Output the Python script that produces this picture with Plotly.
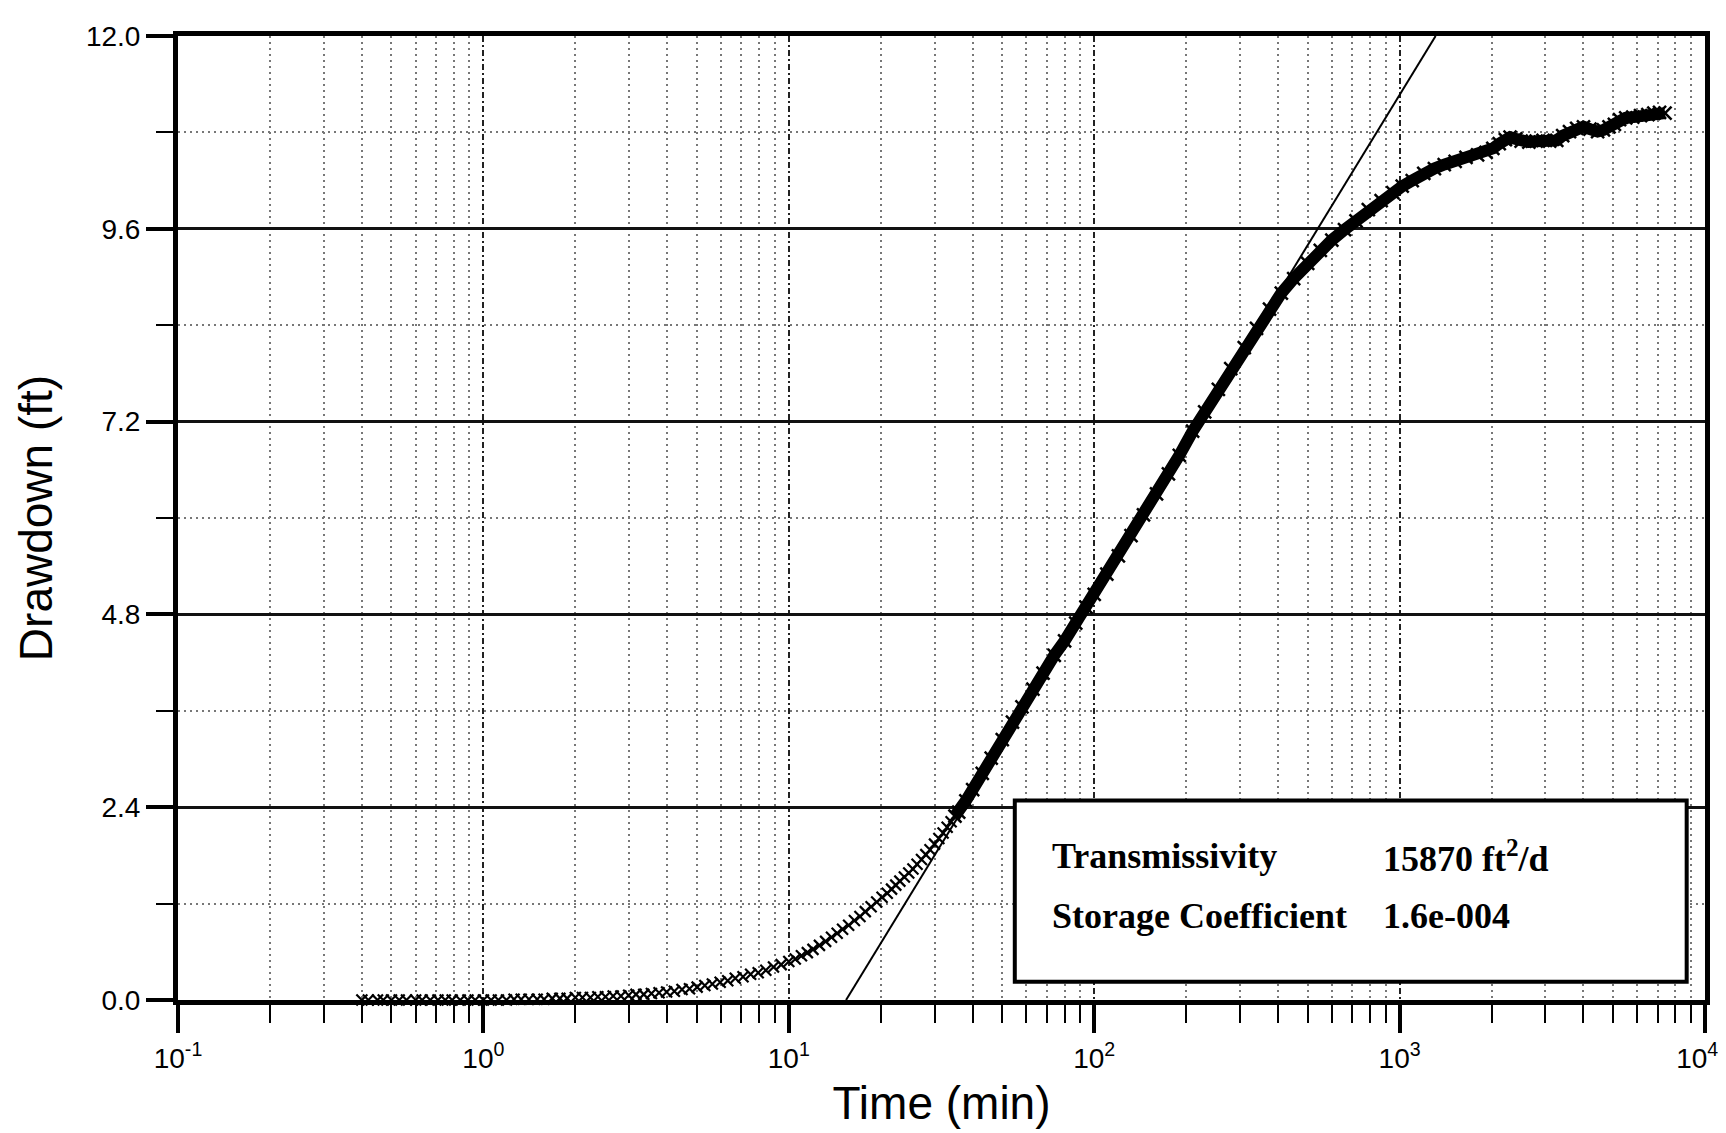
import plotly.graph_objects as go

# ---------------- data ----------------
# early observations (sparse, individual "x" markers)
time_early = [0.40, 0.42, 0.45, 0.47, 0.50, 0.53, 0.56, 0.60, 0.63, 0.67, 0.71, 0.75,
              0.79, 0.84, 0.89, 0.94, 1.00, 1.06, 1.12, 1.19, 1.26, 1.33, 1.41, 1.50,
              1.58, 1.68, 1.78, 1.88, 2.00, 2.11, 2.24, 2.37, 2.51, 2.66, 2.82, 2.99,
              3.16, 3.35, 3.55, 3.76, 3.98, 4.22, 4.47, 4.73, 5.01, 5.31, 5.62, 5.96,
              6.31, 6.68, 7.08, 7.50, 7.94, 8.41, 8.91, 9.44, 10.0,
              10.5, 11.0, 11.5, 12.0, 12.6, 13.2, 13.8, 14.4, 15.0, 15.7, 16.4, 17.1,
              17.8, 18.6, 19.4, 20.2,
              21.0, 21.7, 22.4, 23.1, 23.9, 24.7, 25.5, 26.3, 27.2, 28.1, 29.0, 30.0,
              31.0, 32.0, 33.0, 34.0, 35.0]
drawdown_early = [0.0, 0.0, 0.0, 0.0, 0.0, 0.0, 0.0, 0.0, 0.0, 0.0, 0.0, 0.0,
                  0.0, 0.0, 0.0, 0.0, 0.0, 0.0, 0.0, 0.0, 0.01, 0.01, 0.01, 0.01,
                  0.01, 0.02, 0.02, 0.02, 0.03, 0.03, 0.03, 0.04, 0.04, 0.05, 0.05, 0.06,
                  0.07, 0.07, 0.08, 0.09, 0.10, 0.11, 0.13, 0.14, 0.16, 0.18, 0.20, 0.22,
                  0.24, 0.27, 0.29, 0.32, 0.34, 0.37, 0.41, 0.44, 0.48,
                  0.51, 0.55, 0.59, 0.63, 0.68, 0.73, 0.78, 0.83, 0.88, 0.93, 0.99, 1.04,
                  1.10, 1.16, 1.22, 1.28,
                  1.33, 1.38, 1.43, 1.48, 1.53, 1.58, 1.63, 1.69, 1.75, 1.81, 1.87, 1.94,
                  2.01, 2.08, 2.15, 2.22, 2.29]

# later observations (dense record, drawn as a thick band)
time_late = [35.0, 36.0, 38.0, 40.0, 43.0, 46.0, 50.0, 54.0, 58.0, 63.0, 68.0, 74.0,
             80.0, 87.0, 94.0, 100, 110, 120, 132, 145, 160, 175, 190, 210, 230, 255,
             280, 310, 340, 375, 410, 450, 500, 550, 600, 660, 720, 790, 870, 950,
             1020, 1100, 1200, 1300, 1400, 1520, 1650, 1800, 1920, 2020, 2120, 2220,
             2300, 2400, 2500, 2650, 2800, 2950, 3100, 3270, 3420, 3600, 3800, 4000,
             4200, 4450, 4650, 4850, 5050, 5250, 5500, 5800, 6150, 6500, 6800, 7100, 7400]
drawdown_late = [2.29, 2.34, 2.48, 2.62, 2.82, 3.01, 3.24, 3.46, 3.65, 3.87, 4.07, 4.29,
                 4.47, 4.69, 4.89, 5.05, 5.30, 5.53, 5.78, 6.04, 6.30, 6.55, 6.78, 7.08,
                 7.32, 7.60, 7.86, 8.12, 8.36, 8.60, 8.80, 8.98, 9.17, 9.33, 9.46, 9.59,
                 9.70, 9.84, 9.95, 10.05, 10.13, 10.20, 10.29, 10.35, 10.40, 10.44, 10.49,
                 10.52, 10.55, 10.60, 10.66, 10.71, 10.74, 10.72, 10.69, 10.68, 10.69,
                 10.70, 10.69, 10.70, 10.76, 10.81, 10.85, 10.87, 10.84, 10.81, 10.83,
                 10.87, 10.90, 10.96, 10.98, 10.99, 11.01, 11.02, 11.04, 11.05, 11.04]

# Cooper-Jacob straight-line fit
fit_time = [15.4, 1312]
fit_drawdown = [0.0, 12.0]

# axis ticks
x_tick_vals = [0.1, 1, 10, 100, 1000, 10000]
x_tick_text = ["10<sup>-1</sup>", "10<sup>0</sup>", "10<sup>1</sup>",
               "10<sup>2</sup>", "10<sup>3</sup>", "10<sup>4</sup>\u00a0\u00a0"]
x_minor_vals = [m * d for d in [0.1, 1, 10, 100, 1000] for m in range(2, 10)]
y_tick_vals = [0.0, 2.4, 4.8, 7.2, 9.6, 12.0]
y_tick_text = ["0.0", "2.4", "4.8", "7.2", "9.6", "12.0"]
y_minor_vals = [1.2, 3.6, 6.0, 8.4, 10.8]

param_labels = ["Transmissivity", "Storage Coefficient"]
param_values = ["15870 ft<sup>2</sup>/d", "1.6e-004"]

# ---------------- figure ----------------
SANS = "Liberation Sans, Arial, Helvetica, sans-serif"
SERIF = "Liberation Serif, Times New Roman, serif"

fig = go.Figure()

fig.add_trace(go.Scatter(
    x=fit_time, y=fit_drawdown, mode="lines",
    line=dict(color="black", width=2), showlegend=False, hoverinfo="skip"))

fig.add_trace(go.Scatter(
    x=time_late, y=drawdown_late, mode="lines+markers",
    line=dict(color="black", width=12),
    marker=dict(symbol="x-thin", size=13, color="black",
                line=dict(color="black", width=2.5)),
    showlegend=False, cliponaxis=False))

fig.add_trace(go.Scatter(
    x=time_early, y=drawdown_early, mode="markers",
    marker=dict(symbol="x-thin", size=11, color="black",
                line=dict(color="black", width=2.2)),
    showlegend=False, cliponaxis=False))

fig.update_xaxes(
    type="log", range=[-1, 4], automargin=False,
    tickmode="array", tickvals=x_tick_vals, ticktext=x_tick_text,
    tickfont=dict(family=SANS, size=28, color="black"),
    ticks="outside", ticklen=28, tickwidth=4, tickcolor="black",
    ticklabelstandoff=1,
    showline=True, linewidth=5, linecolor="black", mirror=True,
    showgrid=True, gridcolor="#222", gridwidth=2, griddash="6px,3px,2px,3px",
    zeroline=False,
    minor=dict(tickmode="array", tickvals=x_minor_vals, ticks="outside",
               ticklen=18, tickwidth=2, tickcolor="black",
               showgrid=True, gridcolor="#777", gridwidth=1.5, griddash="2px,4px"),
    title=dict(text="Time (min)", font=dict(family=SANS, size=46, color="black"),
               standoff=16),
)

fig.update_yaxes(
    range=[0, 12], automargin=False,
    tickmode="array", tickvals=y_tick_vals, ticktext=y_tick_text,
    tickfont=dict(family=SANS, size=28, color="black"),
    ticks="outside", ticklen=27, tickwidth=4, tickcolor="black",
    showline=True, linewidth=5, linecolor="black", mirror=True,
    showgrid=True, gridcolor="#111", gridwidth=3,
    zeroline=False,
    minor=dict(tickmode="array", tickvals=y_minor_vals, ticks="outside",
               ticklen=17, tickwidth=2, tickcolor="black",
               showgrid=True, gridcolor="#777", gridwidth=1.5, griddash="2px,4px"),
    title=dict(text="Drawdown (ft)", font=dict(family=SANS, size=46, color="black"),
               standoff=20),
)

# parameter box
fig.add_shape(type="rect", xref="paper", yref="paper",
              x0=0.548, x1=0.988, y0=0.019, y1=0.207,
              line=dict(color="black", width=4), fillcolor="white", layer="above")

label_x = 0.571
value_x = 0.788
row_y = [0.149, 0.087]
for lab, val, yy in zip(param_labels, param_values, row_y):
    fig.add_annotation(x=label_x, y=yy, xref="paper", yref="paper", text=lab,
                       showarrow=False, xanchor="left", yanchor="middle",
                       font=dict(family=SERIF, size=36, color="black", weight="bold"))
    fig.add_annotation(x=value_x, y=yy, xref="paper", yref="paper", text=val,
                       showarrow=False, xanchor="left", yanchor="middle",
                       font=dict(family=SERIF, size=36, color="black", weight="bold"))

fig.update_layout(
    width=1726, height=1133,
    margin=dict(l=170, r=29, t=28, b=141),
    paper_bgcolor="white", plot_bgcolor="white",
    showlegend=False,
)

fig.write_html("out.html")
